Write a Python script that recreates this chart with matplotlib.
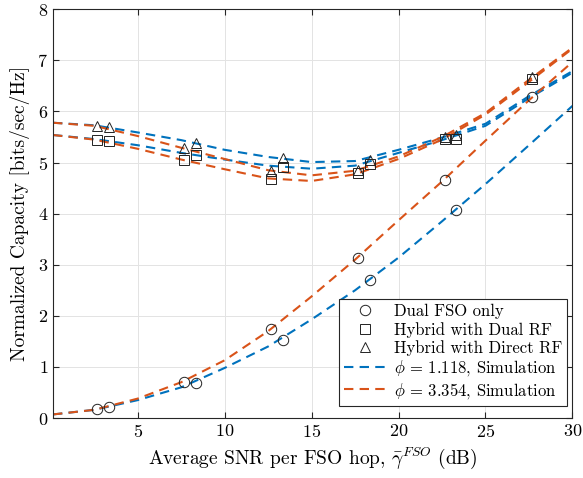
import matplotlib
matplotlib.use('Agg')
import matplotlib.pyplot as plt
from matplotlib.lines import Line2D

plt.rcParams['font.family'] = 'serif'
plt.rcParams['font.serif'] = ['cmr10']
plt.rcParams['mathtext.fontset'] = 'cm'
plt.rcParams['axes.formatter.use_mathtext'] = True

BLUE = '#0072BD'
ORANGE = '#D95319'

# curve samples (dB)
snr = [0.13, 2.5, 5, 7.5, 10, 12.5, 15, 17.5, 20, 22.5, 25, 27.5, 30]

fso_b = [0.07, 0.16, 0.35, 0.60, 0.98, 1.40, 1.93, 2.50, 3.14, 3.85, 4.58, 5.34, 6.11]
dual_b = [5.54, 5.46, 5.34, 5.19, 5.06, 4.94, 4.88, 4.94, 5.19, 5.44, 5.72, 6.26, 6.76]
direct_b = [5.78, 5.73, 5.59, 5.44, 5.25, 5.11, 5.01, 5.03, 5.25, 5.49, 5.76, 6.30, 6.79]

fso_o = [0.07, 0.16, 0.38, 0.70, 1.13, 1.70, 2.38, 3.10, 3.87, 4.63, 5.43, 6.22, 6.97]
dual_o = [5.54, 5.45, 5.27, 5.06, 4.87, 4.69, 4.64, 4.77, 5.07, 5.45, 5.94, 6.58, 7.23]
direct_o = [5.78, 5.72, 5.52, 5.29, 5.07, 4.85, 4.75, 4.84, 5.12, 5.50, 5.97, 6.62, 7.25]

# simulation points
x_sim_o = [2.67, 7.67, 12.67, 17.67, 22.67, 27.67]
x_sim_b = [3.33, 8.33, 13.33, 18.33, 23.33]
circ_o = [0.17, 0.71, 1.74, 3.13, 4.66, 6.28]
circ_b = [0.21, 0.68, 1.53, 2.70, 4.08]
sq_o = [5.44, 5.05, 4.68, 4.79, 5.47, 6.63]
sq_b = [5.43, 5.15, 4.91, 4.97, 5.47]
tri_o = [5.71, 5.28, 4.84, 4.85, 5.50, 6.67]
tri_b = [5.70, 5.38, 5.08, 5.06, 5.54]

fig = plt.figure(figsize=(5.83, 4.78), dpi=100)
ax = fig.add_axes([0.0909, 0.1255, 0.891, 0.855])

dash = (4.5, 3)
lw = 1.5
for y in (fso_b, dual_b, direct_b):
    ax.plot(snr, y, color=BLUE, lw=lw, dashes=dash)
for y in (fso_o, dual_o, direct_o):
    ax.plot(snr, y, color=ORANGE, lw=lw, dashes=dash)

mk = dict(linestyle='none', mfc='none', mec='#222222', mew=0.7, ms=7.5)
ax.plot(x_sim_o, circ_o, marker='o', **mk)
ax.plot(x_sim_b, circ_b, marker='o', **mk)
ax.plot(x_sim_o, sq_o, marker='s', **dict(mk, ms=7))
ax.plot(x_sim_b, sq_b, marker='s', **dict(mk, ms=7))
ax.plot(x_sim_o, tri_o, marker='^', **mk)
ax.plot(x_sim_b, tri_b, marker='^', **mk)

ax.set_xlim(0.13, 30)
ax.set_ylim(0, 8)
ax.set_xticks([5, 10, 15, 20, 25, 30])
ax.set_yticks(range(0, 9))
ax.grid(True, color='#e3e3e3', lw=0.7)
ax.set_axisbelow(True)
ax.tick_params(direction='in', top=True, right=True, labelsize=13, length=4, color='#262626')
for s in ax.spines.values():
    s.set_color('#262626')
    s.set_linewidth(0.8)

ax.set_xlabel(r'Average SNR per FSO hop, $\bar{\gamma}^{FSO}$ (dB)', fontsize=14, labelpad=4)
ax.set_ylabel('Normalized Capacity [bits/sec/Hz]', fontsize=14, labelpad=5)

handles = [
    Line2D([], [], marker='o', **mk),
    Line2D([], [], marker='s', **dict(mk, ms=7)),
    Line2D([], [], marker='^', **mk),
    Line2D([], [], color=BLUE, lw=lw, dashes=dash),
    Line2D([], [], color=ORANGE, lw=lw, dashes=dash),
]
labels = ['Dual FSO only', 'Hybrid with Dual RF', 'Hybrid with Direct RF',
          r'$\phi$ = 1.118, Simulation', r'$\phi$ = 3.354, Simulation']
leg = ax.legend(handles, labels, loc='lower right', bbox_to_anchor=(0.99, 0.03),
                borderaxespad=0, fontsize=12, fancybox=False, framealpha=1,
                edgecolor='#262626', handlelength=2.5, labelspacing=0.15,
                handletextpad=0.5, borderpad=0.3)
leg.get_frame().set_linewidth(0.8)

fig.savefig('out.png', dpi=100)
